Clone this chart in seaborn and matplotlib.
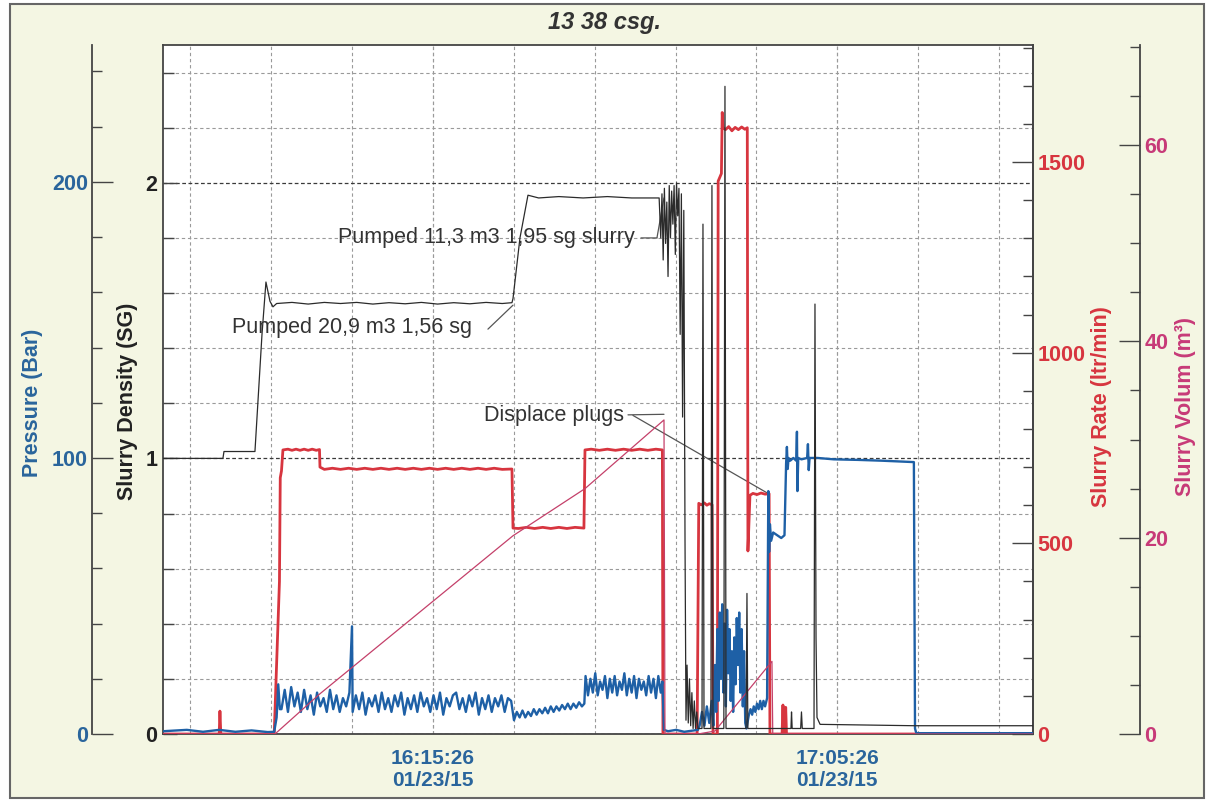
import matplotlib
matplotlib.use("Agg")
import numpy as np
import matplotlib.pyplot as plt
from matplotlib.patches import Rectangle
from matplotlib.ticker import MultipleLocator, FixedLocator
import seaborn as sns

# ---------------- data (time = minutes after 16:00:00, 01/23/15) ----------------
density_t = [-17.95, -10.54, -10.41, -6.58, -5.71, -5.22, -4.72, -4.35, -3.9, -2, 0, 2, 4, 6, 8, 10, 12, 14,
             16, 18, 20, 22, 24, 25.2, 25.33, 26.19, 27.18, 28.5, 31, 34, 37, 40, 43.4,
             43.6, 43.75, 43.9, 44.05, 44.2, 44.35, 44.5, 44.65, 44.8, 44.95, 45.1, 45.25, 45.4, 45.55,
             45.7, 45.85, 46.0, 46.15, 46.3, 46.45, 46.6, 46.72,
             46.85, 47.0, 47.15, 47.3, 47.45, 47.6, 47.75, 47.9, 48.05, 48.2, 48.7, 48.82, 48.95, 49.8,
             49.93, 50.06, 51.4, 51.54, 51.67, 54.15, 54.26, 54.37, 59.7, 59.77, 59.85, 60.9, 61.0, 61.1,
             62.55, 62.67, 62.8, 62.92, 63.3, 75.0, 89.63]
density_sg = [1.00, 1.00, 1.025, 1.025, 1.45, 1.64, 1.57, 1.55, 1.562, 1.566, 1.560, 1.566, 1.562, 1.566,
              1.560, 1.565, 1.561, 1.566, 1.560, 1.565, 1.561, 1.566, 1.562, 1.565, 1.58, 1.80, 1.955,
              1.945, 1.950, 1.945, 1.950, 1.945, 1.945,
              1.80, 1.96, 1.72, 1.98, 1.78, 1.93, 1.66, 1.99, 1.80, 1.97, 1.85, 1.99, 1.74, 2.00,
              1.88, 1.98, 1.45, 1.96, 1.15, 1.90, 0.70, 0.05,
              0.25, 0.04, 0.20, 0.03, 0.15, 0.02, 0.12, 0.02, 0.08, 0.02, 0.02, 1.85, 0.02, 0.02,
              1.99, 0.02, 0.02, 2.35, 0.02, 0.02, 0.51, 0.02, 0.02, 0.08, 0.02, 0.02, 0.08, 0.02,
              0.02, 1.56, 0.35, 0.06, 0.035, 0.03, 0.03]

pressure_t = [-17.95, -15, -13, -11, -9, -7, -5, -4.2, -3.9, -3.7, -3.5,
              -3.3, -2.9, -2.5, -2.1, -1.7, -1.3, -0.9, -0.5, -0.1, 0.3, 0.7, 1.1, 1.5, 1.9, 2.3, 2.7,
              3.1, 3.5, 3.9, 4.3, 4.7, 5.1, 5.42,
              5.5, 5.9, 6.3, 6.7, 7.1, 7.5, 7.9, 8.3, 8.7, 9.1, 9.5, 9.9, 10.3, 10.7, 11.1, 11.5, 11.9,
              12.3, 12.7, 13.1, 13.5, 13.9, 14.3, 14.7, 15.1, 15.5, 15.9, 16.3, 16.7, 17.1, 17.5, 17.9,
              18.3, 18.7, 19.1, 19.5, 19.9, 20.3, 20.7, 21.1, 21.5, 21.9, 22.3, 22.7, 23.1, 23.5, 23.9,
              24.3, 24.7, 25.1,
              25.45, 25.8, 26.15, 26.5, 26.85, 27.2, 27.55, 27.9, 28.25, 28.6, 28.95, 29.3, 29.65, 30.0,
              30.35, 30.7, 31.05, 31.4, 31.75, 32.1, 32.45, 32.8, 33.15, 33.5, 33.85, 34.15,
              34.3, 34.6, 34.9, 35.2, 35.5, 35.8, 36.1, 36.4, 36.7, 37.0, 37.3, 37.6, 37.9, 38.2, 38.5,
              38.8, 39.1, 39.4, 39.7, 40.0, 40.3, 40.6, 40.9, 41.2, 41.5, 41.8, 42.1, 42.4, 42.7, 43.0,
              43.3, 43.6, 43.8,
              44.0, 44.5, 45.5, 46.5, 47.5, 48.2,
              48.4, 48.7, 49.0, 49.3, 49.6, 49.9, 50.1, 50.3, 50.45, 50.6, 50.75, 50.9, 51.05, 51.2,
              51.35, 51.5, 51.65, 51.8, 51.95, 52.1, 52.25, 52.4, 52.55, 52.7, 52.85, 53.0, 53.15,
              53.3, 53.45, 53.6, 53.75, 53.9, 54.05, 54.2, 54.5, 54.7, 54.9, 55.1, 55.3, 55.5, 55.7,
              55.9, 56.1, 56.3, 56.5, 56.75,
              56.9, 57.0, 57.1, 57.25, 57.5, 58.0, 58.5, 58.9, 59.0, 59.1, 59.2, 59.3, 59.4, 59.6,
              60.0, 60.35, 60.44, 60.5, 60.6, 61.0, 61.7, 61.8, 61.9, 62.0, 63.0, 65.0, 68.0, 71.0,
              74.9, 75.04, 75.2, 89.63]
pressure_bar = [1.0, 1.5, 0.8, 1.5, 0.8, 1.3, 0.7, 0.8, 6, 18, 9,
                9, 16, 8, 17, 10, 15, 8, 16, 9, 14, 7, 15, 10, 13, 8, 16,
                9, 14, 8, 13, 10, 15, 39,
                8, 14, 9, 15, 7, 13, 10, 14, 8, 15, 9, 13, 8, 14, 10, 15, 7,
                13, 9, 14, 8, 15, 10, 13, 8, 14, 9, 15, 7, 13, 10, 14,
                15, 9, 13, 8, 14, 10, 15, 7, 13, 9, 14, 8, 13, 10, 14,
                8, 13, 12,
                5, 8, 6, 8.5, 6, 8, 6.5, 9, 7, 9, 7.5, 9.5, 7.5, 10,
                8, 10, 8.5, 10.5, 9, 11, 9, 11, 9.5, 11.5, 10, 11,
                21, 14, 20, 15, 22, 14, 19, 16, 21, 13, 20, 15, 21, 14, 19,
                16, 22, 14, 20, 15, 21, 13, 20, 16, 19, 14, 21, 15, 20, 13,
                21, 15, 19,
                1.5, 1.0, 1.5, 0.8, 1.2, 1.5,
                3, 8, 3, 10, 4, 12, 3, 25, 8, 38, 12, 44, 20, 47,
                15, 40, 10, 45, 22, 38, 12, 30, 8, 35, 18, 42, 25,
                44, 15, 38, 10, 30, 4, 2, 7, 9, 7, 10, 8, 11, 9,
                12, 9, 12, 10, 13,
                88, 66, 76, 70, 73, 72, 71, 72, 85, 98, 104, 96, 100, 99,
                100, 99, 109.5, 88, 100, 99.5, 100, 105, 95.6, 100, 100, 99.5, 99.3, 99,
                98.5, 2, 0.3, 0.3]

rate_t = [-17.95, -11.0, -10.91, -10.8, -4.2, -3.55, -3.45, -3.3, -3.12, -2.5, -2, -1.5, -1, -0.5, 0,
          0.5, 1.0, 1.4, 1.46, 2, 3, 4, 5, 6, 7, 8, 9, 10, 11, 12, 13, 14, 15, 16, 17, 18, 19, 20,
          21, 22, 23, 24, 25.2, 25.33, 26, 27, 28, 29, 30, 31, 32, 33, 34.1, 34.23, 35, 36, 37, 38,
          39, 40, 41, 42, 43, 43.8, 43.87, 48.1, 48.3, 48.6, 49.0, 49.3, 49.6, 49.95, 50.06, 50.6,
          50.7, 51.1, 51.2, 51.3, 51.6, 52.0, 52.4, 52.8, 53.2, 53.6, 54.0, 54.3, 54.38, 54.63,
          55.0, 55.5, 56.0, 56.5, 57.0, 57.1, 58.6, 58.71, 58.8, 58.96, 59.05, 59.15, 89.63]
rate_lpm = [0, 0, 60, 0, 0, 400, 672, 690, 745, 747, 744, 747, 744, 747, 744,
            747, 744, 746, 700, 694, 697, 694, 697, 694, 697, 694, 697, 694, 697, 694, 697, 694,
            697, 694, 697, 694, 697, 694, 697, 694, 697, 694, 695, 540, 539, 542, 539, 542, 539,
            542, 539, 542, 540, 745, 747, 744, 747, 744, 747, 744, 747, 744, 747, 745, 0, 0, 605,
            601, 606, 600, 604, 601, 0, 0, 1450, 1470, 1630, 1590, 1585, 1593, 1582, 1591, 1585,
            1592, 1586, 1590, 480, 626, 631, 628, 632, 629, 630, 0, 0, 76, 0, 0, 70, 0, 0]

volume_t = [-17.95, -4.1, 1.46, 25.33, 34.23, 44.0, 44.12, 48.2, 50.3, 57.35, 57.45, 89.63]
volume_m3 = [0, 0, 4.1, 20.2, 25.0, 32.0, 0, 0, 0.3, 7.4, 0, 0]

time_tick_pos = [15.433, 65.433]
time_tick_labels = ["16:15:26\n01/23/15", "17:05:26\n01/23/15"]

# ---------------- style ----------------
sns.set_style("white")
plt.rcParams['font.family'] = ['Liberation Sans', 'DejaVu Sans']
plt.rcParams['font.weight'] = 'bold'

BLUE = '#2a659c'
PBLUE = '#1e60a6'
RED = '#d7353f'
MAG = '#c73a78'
VOLC = '#c4406a'
DARK = '#2b2b2b'
SPINE = '#444444'
FS = 15.5

W, H = 1206, 801
fig = plt.figure(figsize=(W / 100, H / 100), dpi=100)
fig.patch.set_facecolor('white')
fig.add_artist(Rectangle((10 / W, 3 / H), 1194 / W, 794 / H, transform=fig.transFigure,
                         facecolor='#f4f6e3', edgecolor='#666666', lw=1.5, zorder=-5))

ax = fig.add_axes([163 / W, (H - 734) / H, 870 / W, 689 / H])
ax.set_facecolor('white')
axR = ax.twinx()
axP = ax.twinx()
axV = ax.twinx()
axD = ax.twinx()

sns.lineplot(x=rate_t, y=rate_lpm, ax=axR, color=RED, linewidth=2.0, estimator=None, sort=False)
sns.lineplot(x=pressure_t, y=pressure_bar, ax=axP, color=PBLUE, linewidth=1.7, estimator=None, sort=False)
sns.lineplot(x=volume_t, y=volume_m3, ax=axV, color=VOLC, linewidth=0.9, estimator=None, sort=False)
sns.lineplot(x=density_t, y=density_sg, ax=axD, color=DARK, linewidth=0.9, estimator=None, sort=False)

xlim = (-17.95, 89.63)
for a in (ax, axR, axP, axV, axD):
    a.set_xlim(*xlim)
    a.set_xlabel('')
    a.set_ylabel('')

# ---- density (main left spine) ----
ax.set_ylim(0, 2.5)
axD.set_ylim(0, 2.5)
axD.axis('off')
ax.set_yticks([0, 1, 2])
ax.set_yticklabels(['0', '1', '2'])
ax.yaxis.set_minor_locator(MultipleLocator(0.2))
ax.tick_params(axis='y', which='major', direction='in', length=10, width=1.0, color=SPINE,
               labelsize=FS, labelcolor='#222222', pad=4, left=True, right=False)
ax.tick_params(axis='y', which='minor', direction='in', length=8, width=1.0, color=SPINE, left=True, right=False)
ax.set_xticks(time_tick_pos)
ax.set_xticklabels(time_tick_labels, linespacing=1.2)
ax.xaxis.set_minor_locator(FixedLocator(np.arange(-14.567, 90, 10)))
ax.xaxis.remove_overlapping_locs = False
ax.tick_params(axis='x', which='both', length=0, pad=11, labelsize=15, labelcolor=BLUE)
ax.grid(which='minor', axis='both', linestyle=(0, (3, 2.5)), color='#9a9a9a', lw=0.8)
ax.grid(which='major', axis='y', linestyle=(0, (3, 2)), color='#3a3a3a', lw=0.9)
ax.grid(which='major', axis='x', linestyle=(0, (3, 2.5)), color='#9a9a9a', lw=0.8)
ax.set_axisbelow(True)
for s in ax.spines.values():
    s.set_color(SPINE)
    s.set_linewidth(1.3)

# ---- rate (right spine) ----
axR.set_ylim(0, 1807)
axR.set_yticks([0, 500, 1000, 1500])
axR.yaxis.set_minor_locator(MultipleLocator(100))
axR.tick_params(axis='y', which='major', direction='in', length=15, width=1.0, color=SPINE,
                labelsize=FS, labelcolor=RED, pad=3)
axR.tick_params(axis='y', which='minor', direction='in', length=7, width=1.0, color=SPINE)
for k in ('top', 'bottom', 'left'):
    axR.spines[k].set_visible(False)
axR.spines['right'].set_color(SPINE)
axR.spines['right'].set_linewidth(1.3)

# ---- pressure (outer left spine) ----
axP.set_ylim(0, 249.6)
axP.yaxis.set_ticks_position('left')
axP.spines['left'].set_position(('outward', 71 * 0.72))
axP.set_yticks([0, 100, 200])
axP.yaxis.set_minor_locator(MultipleLocator(20))
axP.tick_params(axis='y', which='major', direction='in', length=15, width=1.0, color=SPINE,
                labelsize=FS, labelcolor=BLUE, pad=3)
axP.tick_params(axis='y', which='minor', direction='in', length=7, width=1.0, color=SPINE)
for k in ('top', 'bottom', 'right'):
    axP.spines[k].set_visible(False)
axP.spines['left'].set_visible(True)
axP.spines['left'].set_color(SPINE)
axP.spines['left'].set_linewidth(1.3)

# ---- volume (outer right spine) ----
axV.set_ylim(0, 70.2)
axV.spines['right'].set_position(('outward', 107 * 0.72))
axV.set_yticks([0, 20, 40, 60])
axV.yaxis.set_minor_locator(MultipleLocator(5))
axV.tick_params(axis='y', which='major', direction='in', length=15, width=1.0, color=SPINE,
                labelsize=FS, labelcolor=MAG, pad=3)
axV.tick_params(axis='y', which='minor', direction='in', length=7, width=1.0, color=SPINE)
for k in ('top', 'bottom', 'left'):
    axV.spines[k].set_visible(False)
axV.spines['right'].set_color(SPINE)
axV.spines['right'].set_linewidth(1.3)

for a in (axR, axP, axV, axD):
    a.tick_params(axis='x', which='both', bottom=False, labelbottom=False, top=False)
    a.grid(False)

# ---- axis titles ----
def ylab(x, y, s, c):
    fig.text(x / W, 1 - y / H, s, rotation=90, ha='center', va='center', fontsize=FS,
             fontweight='bold', color=c)

ylab(33, 403, 'Pressure (Bar)', BLUE)
ylab(127, 401, 'Slurry Density (SG)', '#222222')
ylab(1102, 407, 'Slurry Rate (ltr/min)', RED)
ylab(1186, 407, 'Slurry Volum (m³)', MAG)

fig.text(605 / W, 1 - 22 / H, '13 38 csg.', ha='center', va='center', fontsize=17,
         fontweight='bold', fontstyle='italic', color='#333333')

# ---- annotations (density axis coordinates) ----
TXT = dict(fontsize=FS, fontweight='normal', color='#333333', ha='left', va='center')
LN = dict(arrowstyle='-', color='#555555', lw=0.9, shrinkA=0, shrinkB=0)
ax.text(-9.42, 1.476, 'Pumped 20,9 m3 1,56 sg', **TXT)
ax.annotate('', xy=(25.33, 1.556), xytext=(22.23, 1.469), arrowprops=LN)
ax.text(3.68, 1.80, 'Pumped 11,3 m3 1,95 sg slurry', **TXT)
ax.annotate('', xy=(43.13, 1.80), xytext=(41.15, 1.80), arrowprops=LN)
ax.annotate('', xy=(44.0, 1.945), xytext=(43.13, 1.80), arrowprops=LN)
ax.text(21.74, 1.156, 'Displace plugs', **TXT)
ax.annotate('', xy=(44.0, 1.16), xytext=(39.55, 1.158), arrowprops=LN)
ax.annotate('', xy=(56.86, 0.873), xytext=(40.16, 1.156), arrowprops=LN)

fig.savefig('out.png', dpi=100)
